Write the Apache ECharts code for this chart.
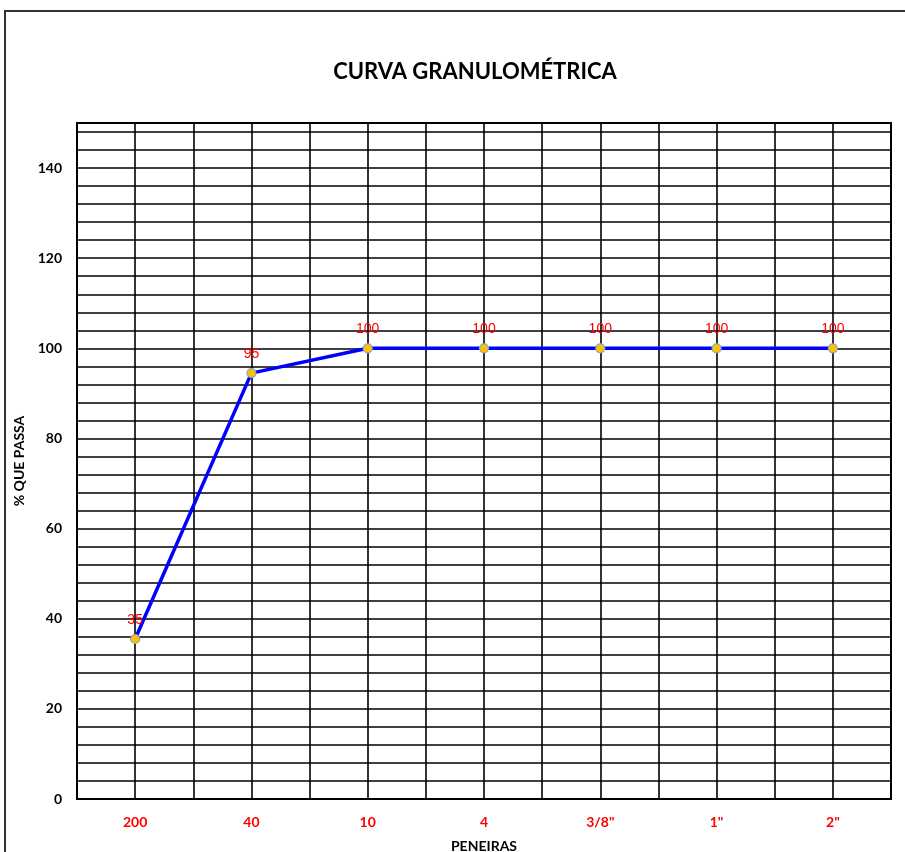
<!DOCTYPE html>
<html>
<head>
<meta charset="utf-8">
<title>Curva Granulométrica</title>
<script src="https://cdn.jsdelivr.net/npm/echarts@6/dist/echarts.min.js"></script>
<style>
  html, body { margin: 0; padding: 0; background: #fff; }
  #chart { width: 905px; height: 852px; }
</style>
</head>
<body>
<div id="chart"></div>
<script>
// peneiras e % que passa
var peneiras = ['200', '40', '10', '4', '3/8"', '1"', '2"'];
var passa = [35.5, 94.5, 100, 100, 100, 100, 100];
var rotulos = ['35', '95', '100', '100', '100', '100', '100'];

var FONTE = 'Lato, "Open Sans", sans-serif';

var pontos = peneiras.map(function (p, i) { return [i, passa[i]]; });

var myChart = echarts.init(document.getElementById('chart'));

var option = {
  backgroundColor: '#fff',
  animation: false,
  title: {
    text: 'CURVA GRANULOMÉTRICA',
    left: 470,
    textAlign: 'center',
    top: 56,
    textStyle: { fontFamily: FONTE, fontSize: 22, fontWeight: 'bold', color: '#000' }
  },
  graphic: [{
    type: 'rect',
    shape: { x: 5, y: 11, width: 1000, height: 1000 },
    style: { fill: 'none', stroke: '#333', lineWidth: 2 },
    silent: true
  }],
  grid: {
    left: 77, right: 14, top: 123, bottom: 53,
    outerBoundsMode: 'none',
    containLabel: false,
    show: true, borderColor: '#000', borderWidth: 2
  },
  xAxis: {
    type: 'value',
    min: -0.5, max: 6.5, interval: 0.5,
    name: 'PENEIRAS',
    nameLocation: 'middle',
    nameGap: 40,
    nameTextStyle: { fontFamily: FONTE, fontSize: 14, fontWeight: 'bold', color: '#000' },
    axisLine: { show: false },
    axisTick: { show: false },
    axisLabel: {
      margin: 16,
      fontFamily: FONTE, fontSize: 14, fontWeight: 'bold', color: '#ff0000',
      formatter: function (v) {
        return Number.isInteger(v) && peneiras[v] !== undefined ? peneiras[v] : '';
      }
    },
    splitLine: { show: true, lineStyle: { color: '#000', width: 1.6 } }
  },
  yAxis: {
    type: 'value',
    min: 0, max: 150, interval: 4,
    name: '% QUE PASSA',
    nameLocation: 'middle',
    nameGap: 45,
    nameRotate: 90,
    nameTextStyle: { fontFamily: FONTE, fontSize: 14, fontWeight: 'bold', color: '#000' },
    axisLine: { show: false },
    axisTick: { show: false },
    axisLabel: {
      margin: 15,
      fontFamily: FONTE, fontSize: 14, fontWeight: 'bold', color: '#000',
      formatter: function (v) { return v % 20 === 0 ? String(v) : ''; }
    },
    splitLine: { show: true, lineStyle: { color: '#000', width: 1.6 } }
  },
  series: [{
    type: 'line',
    data: pontos,
    symbol: 'circle',
    symbolSize: 9,
    lineStyle: { color: '#0000ff', width: 3.5 },
    itemStyle: { color: '#ffc000', borderColor: '#7fa6d6', borderWidth: 1.2 },
    label: {
      show: true,
      position: 'top',
      distance: 7,
      fontFamily: '"Liberation Sans", Arial, sans-serif',
      fontSize: 14,
      color: '#ff0000',
      formatter: function (p) { return rotulos[p.dataIndex]; }
    },
    z: 5
  }]
};

myChart.setOption(option);
</script>
</body>
</html>
